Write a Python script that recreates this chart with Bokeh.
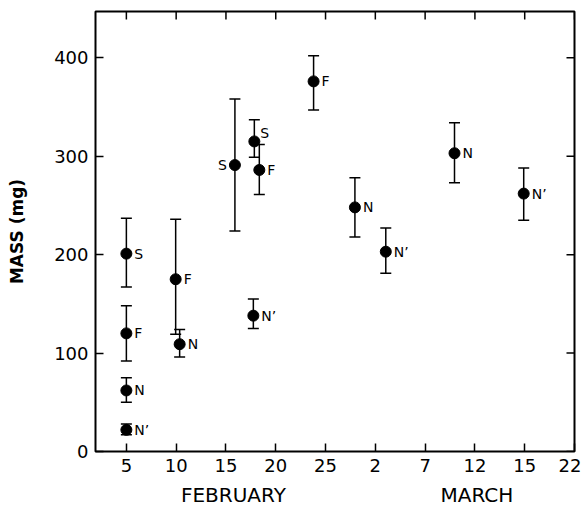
from bokeh.plotting import figure
from bokeh.models import (ColumnDataSource, Range1d, LinearAxis, FixedTicker,
                          Whisker, TeeHead)
from bokeh.core.properties import value
from bokeh.embed import file_html
from bokeh.resources import INLINE

# Day number counted from 1 February (2 March = day 30)
day = [5.0, 5.0, 5.0, 5.0, 9.95, 10.35, 15.9, 17.85, 18.35, 17.75, 23.8, 27.95, 31.05, 37.95, 44.9]
mass = [201, 120, 62, 22, 175, 109, 291, 315, 286, 138, 376, 248, 203, 303, 262]
lower = [167, 92, 50, 17, 119, 96, 224, 299, 261, 125, 347, 218, 181, 273, 235]
upper = [237, 148, 75, 28, 236, 124, 358, 337, 312, 155, 402, 278, 227, 334, 288]
group = ["S", "F", "N", "N\u2019", "F", "N", "S", "S", "F", "N\u2019", "F", "N", "N\u2019", "N", "N\u2019"]

x_ticks = [5, 10, 15, 20, 25, 30, 35, 40, 45, 50]
x_tick_labels = ["5", "10", "15", "20", "25", "2", "7", "12", "15", "22"]
y_ticks = [0, 100, 200, 300, 400]
month_pos = [15.75, 40.2]
month_names = ["FEBRUARY", "MARCH"]

# label placement (style): default right of the dot
lab_align = ["left"] * len(day)
lab_dx = [8] * len(day)
lab_dy = [0] * len(day)
lab_align[6] = "right"; lab_dx[6] = -8          # S on 16 Feb: left of dot
lab_dx[7] = 6; lab_dy[7] = -8                  # S on 18 Feb: raised

src = ColumnDataSource(dict(x=day, y=mass, lo=lower, hi=upper, t=group,
                            al=lab_align, dx=lab_dx, dy=lab_dy))

FONT = "DejaVu Sans"
X0, X1, Y0, Y1 = 1.9, 50.0, 0, 447
FW, FH = 479, 440          # frame size in px
TICK = 8

p = figure(width=581, height=510, output_backend="svg", toolbar_location=None,
           x_range=Range1d(X0, X1), y_range=Range1d(Y0, Y1),
           min_border_left=95, min_border_right=7, min_border_top=11,
           min_border_bottom=59)
p.grid.visible = False
p.outline_line_color = "black"
p.outline_line_width = 2
p.background_fill_color = "white"
p.border_fill_color = "white"

# bottom axis
xa = p.xaxis[0]
xa.ticker = FixedTicker(ticks=x_ticks)
xa.major_label_overrides = {t: l for t, l in zip(x_ticks, x_tick_labels)}
xa.major_tick_in = TICK
xa.major_tick_out = 0
xa.minor_tick_line_color = None
xa.axis_line_color = None
xa.major_tick_line_width = 1.5
xa.major_label_standoff = 7
xa.major_label_text_font = FONT
xa.major_label_text_font_size = "18px"
xa.major_label_text_color = "black"

# left axis
ya = p.yaxis[0]
ya.ticker = FixedTicker(ticks=y_ticks)
ya.major_tick_in = TICK
ya.major_tick_out = 0
ya.minor_tick_line_color = None
ya.axis_line_color = None
ya.major_tick_line_width = 1.5
ya.major_label_standoff = 7
ya.major_label_text_font = FONT
ya.major_label_text_font_size = "18px"
ya.major_label_text_color = "black"
ya.axis_label = "MASS (mg)"
ya.axis_label_text_font = FONT
ya.axis_label_text_font_style = "bold"
ya.axis_label_text_font_size = "17px"
ya.axis_label_text_color = "black"
ya.axis_label_standoff = 24

# mirror ticks on the top and right frame edges (inward, 8 px)
dx_tick = TICK * (X1 - X0) / FW
dy_tick = TICK * (Y1 - Y0) / FH
p.segment(x0=x_ticks, y0=[Y1] * len(x_ticks), x1=x_ticks,
          y1=[Y1 - dy_tick] * len(x_ticks), line_color="black", line_width=1.5)
p.segment(x0=[X1] * len(y_ticks), y0=y_ticks, x1=[X1 - dx_tick] * len(y_ticks),
          y1=y_ticks, line_color="black", line_width=1.5)

# month names
ma = LinearAxis(ticker=FixedTicker(ticks=month_pos),
                major_label_overrides={t: l for t, l in zip(month_pos, month_names)},
                axis_line_color=None, major_tick_line_color=None,
                minor_tick_line_color=None, major_label_standoff=2,
                major_label_text_font=FONT, major_label_text_font_size="20px",
                major_label_text_color="black")
p.add_layout(ma, "below")

# error bars
w = Whisker(base="x", lower="lo", upper="hi", source=src, dimension="height",
            line_color="black", line_width=1.5,
            lower_head=TeeHead(size=11, line_color="black", line_width=1.5),
            upper_head=TeeHead(size=11, line_color="black", line_width=1.5))
p.add_layout(w)

p.scatter("x", "y", source=src, size=11, color="black")

p.text("x", "y", text="t", source=src, x_offset="dx", y_offset="dy",
       text_align="al", text_baseline="middle",
       text_font=value(FONT), text_font_size="14px", text_color="black")

open("out.html", "w").write(file_html(p, INLINE))
